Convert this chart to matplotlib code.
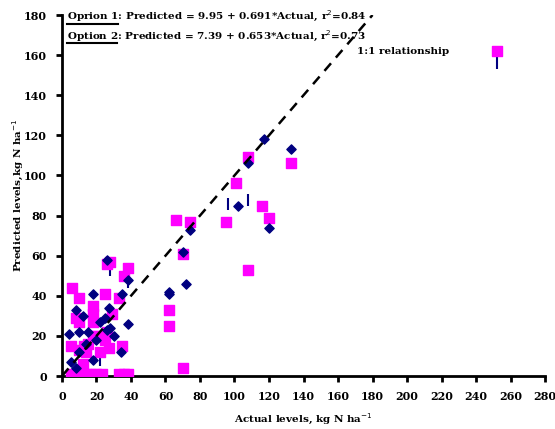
import matplotlib.pyplot as plt

# Option 1 (navy diamonds)
opt1_actual = [133, 117, 108, 102, 120, 72, 70, 74, 62, 62, 38, 38, 35, 34, 27, 26, 26, 28,
               18, 15, 12, 10, 8, 4, 5, 8, 18, 10, 25, 20, 14, 22, 30]
opt1_pred = [113, 118, 106, 85, 74, 46, 62, 73, 41, 42, 48, 26, 41, 12, 34, 58, 23, 24,
             41, 22, 30, 22, 33, 21, 7, 4, 8, 12, 29, 18, 16, 27, 20]

# Option 2 (magenta squares)
opt2_actual = [252, 133, 108, 101, 116, 120, 95, 108, 70, 66, 74, 70, 62, 62, 38, 36, 33, 28,
               26, 25, 6, 10, 5, 8, 10, 18, 18, 18, 18, 20, 15, 13, 10, 12, 14, 22, 25, 27,
               29, 26, 33, 36, 38, 35, 5, 8, 11, 14, 17, 20, 23]
opt2_pred = [162, 106, 109, 96, 85, 79, 77, 53, 4, 78, 77, 61, 33, 25, 54, 50, 39, 57,
             56, 41, 44, 39, 15, 29, 27, 35, 31, 27, 20, 20, 16, 15, 13, 6, 12, 12, 18, 14,
             31, 22, 1, 1, 1, 15, 1, 1, 1, 1, 1, 1, 1]

# small vertical error stubs
bar_x = [252, 96, 108, 28, 38, 22, 35]
bar_lo = [153, 83, 85, 50, 44, 5, 36]
bar_hi = [159, 89, 91, 55, 48, 10, 40]

fig = plt.figure(figsize=(5.55, 4.29), dpi=100)
ax = fig.add_axes([0.1117, 0.1235, 0.8703, 0.8415])

ax.vlines(bar_x, bar_lo, bar_hi, colors='#000080', linewidth=1.5, zorder=2)
ax.plot([0, 180], [0, 180], color='black', linestyle=(0, (4, 3)), linewidth=1.8, zorder=4)
ax.scatter(opt2_actual, opt2_pred, marker='s', s=55, color='#FF00FF', zorder=3)
ax.scatter(opt1_actual, opt1_pred, marker='D', s=22, color='#000080', zorder=3)

ax.set_xlim(0, 280)
ax.set_ylim(0, 180)
ax.set_xticks(range(0, 281, 20))
ax.set_yticks(range(0, 181, 20))
for s in ['top', 'right']:
    ax.spines[s].set_visible(False)
for s in ['left', 'bottom']:
    ax.spines[s].set_linewidth(2)
ax.tick_params(direction='out', length=4, width=2, labelsize=8, pad=7)
for lab in ax.get_xticklabels() + ax.get_yticklabels():
    lab.set_fontweight('bold')
    lab.set_family('DejaVu Serif')

ax.set_xlabel('Actual levels, kg N ha$^{-1}$', fontsize=7.5, fontweight='bold', family='DejaVu Serif')
ax.set_ylabel('Predicted levels,kg N ha$^{-1}$', fontsize=7.5, fontweight='bold', family='DejaVu Serif')
ax.xaxis.set_label_coords(0.5, -0.119)
ax.yaxis.set_label_coords(-0.091, 0.5)
ax.xaxis.label.set_va('center')
ax.yaxis.label.set_va('center')

fs = 7.5
fig.text(67/555, 1-16/429, 'Oprion 1: Predicted = 9.95 + 0.691*Actual, r$^{2}$=0.84',
         fontsize=fs, fontweight='bold', family='DejaVu Serif', va='center')
fig.text(67/555, 1-36/429, 'Option 2: Predicted = 7.39 + 0.653*Actual, r$^{2}$=0.73',
         fontsize=fs, fontweight='bold', family='DejaVu Serif', va='center')
fig.add_artist(plt.Line2D([67/555, 118/555], [1-24/429, 1-24/429], color='black', linewidth=1.5))
fig.add_artist(plt.Line2D([67/555, 117/555], [1-43/429, 1-43/429], color='black', linewidth=1.5))
fig.text(357/555, 1-51/429, '1:1 relationship', fontsize=fs, fontweight='bold',
         family='DejaVu Serif', va='center')

fig.savefig('out.png', dpi=100)
